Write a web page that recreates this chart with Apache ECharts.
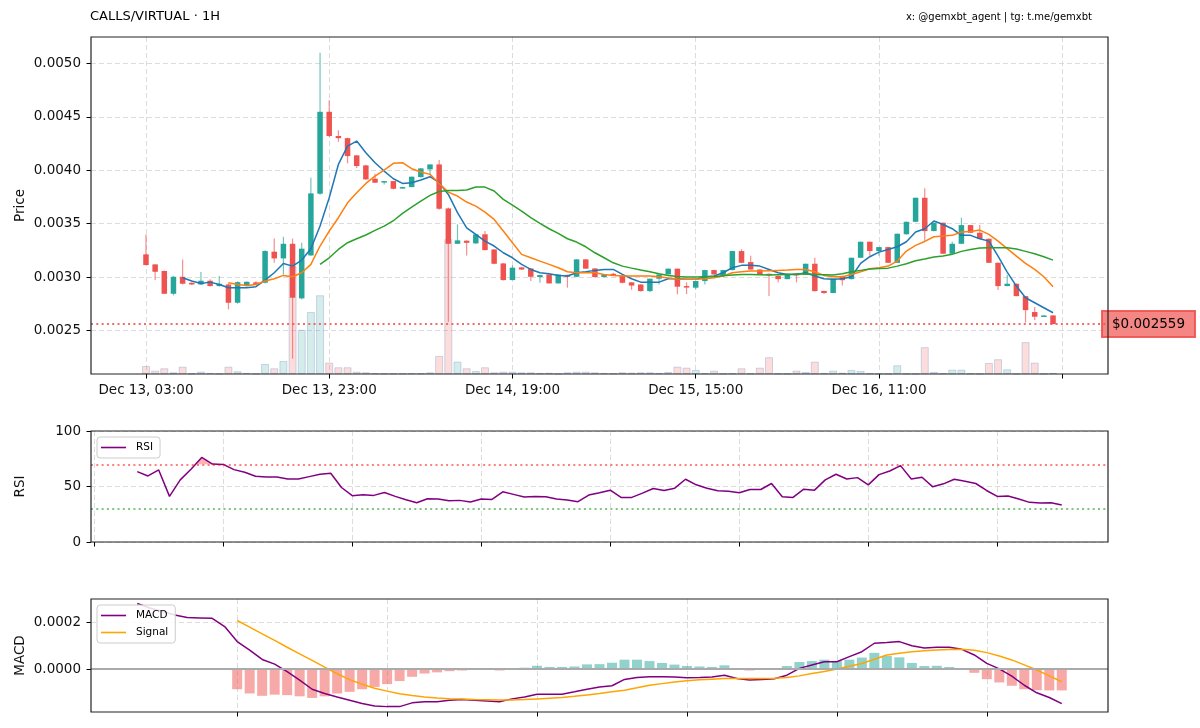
<!DOCTYPE html>
<html>
<head>
<meta charset="utf-8">
<title>CALLS/VIRTUAL 1H</title>
<script src="https://cdn.jsdelivr.net/npm/echarts@6/dist/echarts.min.js"></script>
<style>
  html, body { margin: 0; padding: 0; background: #fff; }
  #chart { width: 1200px; height: 728px; }
</style>
</head>
<body>
<div id="chart"></div>
<script>
// ---- data (hourly candles, index 0 = Dec 13 03:00) ----
const opens = [0.003212,0.003118,0.003056,0.002843,0.003002,0.002946,0.002930,0.002965,0.002915,0.002930,
  0.002759,0.002915,0.002950,0.002946,0.003237,0.003174,0.003311,0.002800,0.003202,0.003780,
  0.004547,0.004320,0.004300,0.004139,0.004045,0.003920,0.003890,0.003898,0.003830,0.003842,
  0.003936,0.004008,0.004054,0.003642,0.003311,0.003340,0.003315,0.003400,0.003258,0.003127,
  0.002971,0.003090,0.003080,0.003000,0.003024,0.002940,0.003020,0.003002,0.003165,0.003080,
  0.003000,0.003030,0.003013,0.002950,0.002930,0.002868,0.002984,0.003024,0.003078,0.002915,
  0.002900,0.002962,0.003065,0.003010,0.003065,0.003243,0.003140,0.003070,0.003030,0.003010,
  0.002980,0.003030,0.003020,0.003124,0.002870,0.002850,0.003010,0.002980,0.003180,0.003330,
  0.003243,0.003280,0.003133,0.003400,0.003517,0.003742,0.003430,0.003508,0.003218,0.003311,
  0.003486,0.003414,0.003358,0.003133,0.002915,0.002937,0.002821,0.002672,0.002630,0.002640];
const closes = [0.003112,0.003049,0.002843,0.003002,0.002937,0.002930,0.002965,0.002915,0.002937,0.002759,
  0.002952,0.002955,0.002935,0.003243,0.003174,0.003311,0.002806,0.003265,0.003783,0.004547,
  0.004320,0.004300,0.004132,0.004039,0.003914,0.003883,0.003898,0.003826,0.003842,0.003939,
  0.004017,0.004054,0.003639,0.003311,0.003343,0.003320,0.003399,0.003252,0.003124,0.002971,
  0.003087,0.003070,0.003002,0.003018,0.002940,0.003024,0.003002,0.003165,0.003078,0.003000,
  0.003020,0.003025,0.002946,0.002920,0.002868,0.002984,0.003024,0.003078,0.002909,0.002906,
  0.002962,0.003065,0.003024,0.003065,0.003243,0.003133,0.003070,0.003024,0.003020,0.002980,
  0.003030,0.003015,0.003124,0.002868,0.002850,0.002984,0.002970,0.003180,0.003330,0.003243,
  0.003280,0.003133,0.003405,0.003517,0.003742,0.003430,0.003508,0.003218,0.003311,0.003486,
  0.003414,0.003358,0.003133,0.002915,0.002937,0.002821,0.002690,0.002628,0.002640,0.002559];
const highs = [0.003399,0.003120,0.003060,0.003010,0.003165,0.002950,0.003046,0.002980,0.003009,0.002940,
  0.002960,0.002960,0.002960,0.003250,0.003361,0.003377,0.003360,0.003320,0.003929,0.005100,
  0.004654,0.004375,0.004305,0.004140,0.004050,0.003967,0.003900,0.003900,0.003845,0.003940,
  0.004020,0.004055,0.004095,0.003650,0.003493,0.003345,0.003400,0.003430,0.003260,0.003130,
  0.003110,0.003095,0.003085,0.003020,0.003025,0.003026,0.003022,0.003168,0.003168,0.003082,
  0.003025,0.003040,0.003015,0.002952,0.002932,0.002986,0.003026,0.003080,0.003080,0.002950,
  0.002964,0.003067,0.003067,0.003067,0.003245,0.003260,0.003200,0.003072,0.003032,0.003012,
  0.003032,0.003032,0.003126,0.003180,0.002872,0.002986,0.003012,0.003182,0.003332,0.003332,
  0.003282,0.003282,0.003407,0.003519,0.003744,0.003830,0.003510,0.003510,0.003330,0.003555,
  0.003488,0.003486,0.003360,0.003135,0.003020,0.002939,0.002823,0.002719,0.002642,0.002642];
const lows = [0.003110,0.002971,0.002840,0.002828,0.002930,0.002925,0.002928,0.002910,0.002910,0.002697,
  0.002750,0.002910,0.002930,0.002940,0.003133,0.003024,0.002235,0.002790,0.003200,0.003770,
  0.004310,0.004267,0.004064,0.004020,0.003910,0.003880,0.003867,0.003820,0.003828,0.003840,
  0.003930,0.003960,0.003630,0.002578,0.003310,0.003202,0.003310,0.003250,0.003120,0.002968,
  0.002970,0.003065,0.002962,0.002946,0.002938,0.002938,0.002900,0.003000,0.003075,0.002995,
  0.002995,0.003020,0.002940,0.002880,0.002865,0.002860,0.002930,0.003020,0.002838,0.002840,
  0.002885,0.002930,0.003020,0.003005,0.003060,0.003130,0.003068,0.003020,0.002821,0.002950,
  0.002978,0.002950,0.003018,0.002865,0.002840,0.002848,0.002920,0.002978,0.003178,0.003200,
  0.003200,0.003130,0.003130,0.003398,0.003515,0.003336,0.003428,0.003215,0.003215,0.003309,
  0.003412,0.003355,0.003130,0.002878,0.002913,0.002819,0.002572,0.002597,0.002628,0.002557];
// volume, relative units
const volumes = [8,3.3,5.7,1.7,7.3,0.5,2.3,1,0.3,7.3,
  2.7,1,0.3,10,5.7,13,107,44,61.7,78.3,
  11.3,6.7,6.7,2.3,1.7,0.8,0.5,0.5,0.7,0.8,
  0.7,1.7,18,134,12.3,5.7,3,6.7,1.7,2.3,
  2.3,1.7,1.7,1,1.3,0.3,1.7,2.3,2.3,1.7,
  1,0.7,1.7,1.3,1.7,1.7,1,2,7.3,6.3,
  4,0.7,3.3,0.3,0.7,5.7,0.7,6.3,16.7,0.7,
  0.3,3.3,2,12.3,1,3.3,1.3,4,3,0.7,
  0.3,0.3,8.7,0.3,0.3,26.7,2,0.7,4.3,4.3,
  0.7,0.3,11,14.7,4.7,0.3,31.7,11.3,0.3,1];

// moving averages (first value at the given candle index)
const maFastStart = 4;
const maFast = [0.002993,0.002962,0.002940,0.002952,0.002930,0.002899,0.002899,0.002899,0.002909,0.002971,
  0.003040,0.003127,0.003102,0.003159,0.003265,0.003477,0.003742,0.004054,0.004226,0.004273,
  0.004164,0.004070,0.003992,0.003920,0.003876,0.003883,0.003908,0.003939,0.003883,0.003773,
  0.003602,0.003461,0.003399,0.003336,0.003290,0.003227,0.003180,0.003118,0.003071,0.003040,
  0.003030,0.003015,0.003009,0.003040,0.003049,0.003062,0.003071,0.003071,0.003024,0.002984,
  0.002952,0.002952,0.002952,0.002984,0.002984,0.002978,0.002978,0.003002,0.003009,0.003040,
  0.003087,0.003109,0.003109,0.003102,0.003071,0.003040,0.003024,0.003024,0.003040,0.003009,
  0.002984,0.002978,0.002984,0.003002,0.003127,0.003190,0.003233,0.003258,0.003283,0.003330,
  0.003421,0.003452,0.003524,0.003492,0.003452,0.003390,0.003390,0.003358,0.003336,0.003196,
  0.003046,0.002915,0.002806,0.002759,0.002712,0.002665];
const maMidStart = 9;
const maMid = [0.002946,0.002930,0.002921,0.002930,0.002962,0.002984,0.003015,0.003002,0.003040,0.003118,
  0.003290,0.003430,0.003555,0.003695,0.003789,0.003876,0.003945,0.004001,0.004064,0.004070,
  0.004014,0.003983,0.003961,0.003876,0.003795,0.003758,0.003702,0.003664,0.003608,0.003539,
  0.003430,0.003321,0.003212,0.003180,0.003149,0.003118,0.003087,0.003049,0.003040,0.003040,
  0.003040,0.003024,0.003015,0.003009,0.003009,0.003009,0.003009,0.003002,0.002990,0.002981,
  0.002978,0.002978,0.002984,0.002993,0.003009,0.003040,0.003049,0.003056,0.003056,0.003059,
  0.003062,0.003065,0.003071,0.003071,0.003049,0.003015,0.003002,0.003002,0.003024,0.003049,
  0.003077,0.003087,0.003102,0.003149,0.003243,0.003296,0.003333,0.003377,0.003383,0.003390,
  0.003421,0.003427,0.003439,0.003399,0.003336,0.003265,0.003196,0.003127,0.003071,0.003002,
  0.002909];
const maSlowStart = 19;
const maSlow = [0.003118,0.003180,0.003258,0.003321,0.003358,0.003393,0.003436,0.003477,0.003527,0.003596,
  0.003655,0.003711,0.003764,0.003801,0.003811,0.003811,0.003814,0.003842,0.003842,0.003805,
  0.003727,0.003674,0.003617,0.003555,0.003502,0.003452,0.003408,0.003358,0.003327,0.003283,
  0.003227,0.003180,0.003133,0.003102,0.003083,0.003065,0.003049,0.003030,0.003015,0.003005,
  0.002999,0.002999,0.003002,0.003005,0.003012,0.003018,0.003024,0.003024,0.003021,0.003018,
  0.003021,0.003024,0.003027,0.003030,0.003024,0.003021,0.003018,0.003030,0.003049,0.003062,
  0.003074,0.003080,0.003083,0.003102,0.003124,0.003152,0.003168,0.003187,0.003196,0.003212,
  0.003240,0.003258,0.003271,0.003274,0.003274,0.003274,0.003262,0.003240,0.003218,0.003190,
  0.003158];

// RSI (87 points) on its own index axis
const rsiValues = [63.4,59.5,64.9,41.1,56.0,65.5,76.2,70.2,69.9,65.2,
  62.8,59.2,58.6,58.6,56.8,56.8,58.9,61.0,61.9,49.1,
  41.7,42.6,42.0,44.6,41.1,38.1,35.4,39.0,38.7,37.2,
  37.5,36.0,38.7,38.4,45.2,42.9,40.5,41.1,40.8,38.7,
  37.8,36.3,42.3,44.3,46.7,40.2,40.2,44.0,48.2,46.4,
  48.5,56.5,51.5,48.5,46.1,45.8,44.3,47.3,47.3,52.7,
  40.8,40.2,47.6,46.7,56.0,61.0,56.8,58.0,51.5,60.7,
  64.0,68.8,56.8,58.3,49.7,52.4,56.5,54.8,52.7,46.4,
  41.1,41.4,38.7,35.7,35.1,35.4,33.3];
const rsiHigh = 70;
const rsiLow = 30;

// MACD (75 points), signal and histogram start at index 8
const macdValues = [0.000279,0.000260,0.000245,0.000230,0.000220,0.000218,0.000216,0.000181,0.000117,0.000081,
  0.000041,0.000021,-0.000011,-0.000047,-0.000086,-0.000104,-0.000119,-0.000133,-0.000147,-0.000157,
  -0.000160,-0.000160,-0.000144,-0.000139,-0.000139,-0.000133,-0.000130,-0.000133,-0.000136,-0.000139,
  -0.000127,-0.000119,-0.000107,-0.000107,-0.000107,-0.000097,-0.000086,-0.000076,-0.000071,-0.000044,
  -0.000036,-0.000033,-0.000033,-0.000034,-0.000037,-0.000036,-0.000034,-0.000026,-0.000040,-0.000047,
  -0.000044,-0.000041,-0.000026,0.000003,0.000017,0.000031,0.000031,0.000053,0.000074,0.000110,
  0.000113,0.000117,0.000099,0.000090,0.000093,0.000093,0.000084,0.000060,0.000024,0.000001,
  -0.000030,-0.000069,-0.000101,-0.000121,-0.000147];
const signalStart = 8;
const signalValues = [0.000207,0.000179,0.000150,0.000122,0.000093,0.000065,0.000037,0.000008,-0.000020,-0.000045,
  -0.000065,-0.000082,-0.000094,-0.000105,-0.000113,-0.000119,-0.000123,-0.000126,-0.000128,-0.000130,
  -0.000131,-0.000132,-0.000132,-0.000130,-0.000127,-0.000124,-0.000121,-0.000116,-0.000110,-0.000104,
  -0.000097,-0.000090,-0.000080,-0.000069,-0.000062,-0.000055,-0.000050,-0.000046,-0.000043,-0.000040,
  -0.000040,-0.000040,-0.000040,-0.000039,-0.000036,-0.000029,-0.000019,-0.000010,0.000000,0.000012,
  0.000024,0.000042,0.000060,0.000067,0.000074,0.000078,0.000081,0.000083,0.000084,0.000080,
  0.000070,0.000056,0.000039,0.000018,-0.000004,-0.000029,-0.000054];
const histValues = [-0.000086,-0.000104,-0.000114,-0.000109,-0.000111,-0.000116,-0.000123,-0.000116,-0.000104,-0.000097,
  -0.000086,-0.000076,-0.000064,-0.000051,-0.000033,-0.000019,-0.000014,-0.000009,-0.000006,-0.000004,
  -0.000004,-0.000006,0.000001,0.000006,0.000014,0.000009,0.000009,0.000011,0.000020,0.000021,
  0.000027,0.000040,0.000040,0.000034,0.000026,0.000019,0.000013,0.000011,0.000009,0.000016,
  0.000003,-0.000006,-0.000003,0.000000,0.000013,0.000030,0.000034,0.000040,0.000034,0.000040,
  0.000049,0.000069,0.000056,0.000050,0.000026,0.000013,0.000014,0.000009,0.000003,-0.000016,
  -0.000043,-0.000057,-0.000071,-0.000086,-0.000090,-0.000091,-0.000091];

// axis ticks
const priceTickPos = [0, 20, 40, 60, 80, 100];
const priceTickLabels = ['Dec 13, 03:00', 'Dec 13, 23:00', 'Dec 14, 19:00', 'Dec 15, 15:00', 'Dec 16, 11:00', ''];
const priceYTicks = [0.0025, 0.0030, 0.0035, 0.0040, 0.0045, 0.0050];
const rsiTickPos = [-4, 8, 20, 32, 44, 56, 68, 80];
const macdTickPos = [8, 20, 32, 44, 56, 68];
const macdYTicks = [0, 0.0002];

const titleText = 'CALLS/VIRTUAL · 1H';
const creditText = 'x: @gemxbt_agent | tg: t.me/gemxbt';

// ---- style ----
const FONT = 'DejaVu Sans';
const UP = '#26a69a';
const DOWN = '#ef5350';
const UP_WICK = 'rgba(38,166,154,0.65)';
const DOWN_WICK = 'rgba(239,83,80,0.65)';
const GRID_LINE = { show: true, lineStyle: { color: '#dcdcdc', type: [5, 3], width: 1 } };
const TICK = { show: true, inside: false, length: 4.5, lineStyle: { color: '#000', width: 1 } };
const LABEL = { color: '#111', fontSize: 13.5, fontFamily: FONT };
const NO_LINE = { show: false, onZero: false };
const NAME_STYLE = { fontSize: 13.5, color: '#111', fontFamily: FONT };
const PLOT_L = 91, PLOT_R = 92;
const CANDLE_W = 5.5;

const lastClose = closes[closes.length - 1];

function seq(start, arr) {
  return arr.map((v, j) => [start + j, v]);
}

const candleData = opens.map((o, i) => [i, o, closes[i], lows[i], highs[i]]);
const volumeData = volumes.map((v, i) => {
  const up = closes[i] >= opens[i];
  return {
    value: [i, v],
    itemStyle: {
      color: up ? 'rgba(38,166,154,0.2)' : 'rgba(239,83,80,0.2)',
      borderColor: 'rgba(120,150,200,0.35)',
      borderWidth: 1
    }
  };
});
const histData = histValues.map((v, j) => ({
  value: [signalStart + j, v],
  itemStyle: { color: v >= 0 ? 'rgba(38,166,154,0.5)' : 'rgba(239,83,80,0.5)' }
}));
// RSI segments for the overbought shading: [k, rsi(k), rsi(k+1)]
const rsiSegments = rsiValues.slice(0, -1).map((v, k) => [k, v, rsiValues[k + 1]]);

// candle: lighter wick from low to high, solid body from open to close
function renderCandle(params, api) {
  const x = api.value(0);
  const o = api.value(1), c = api.value(2), l = api.value(3), h = api.value(4);
  const up = c >= o;
  const pO = api.coord([x, o]), pC = api.coord([x, c]);
  const pL = api.coord([x, l]), pH = api.coord([x, h]);
  const top = Math.min(pO[1], pC[1]);
  const bodyH = Math.max(Math.abs(pO[1] - pC[1]), 1.5);
  return {
    type: 'group',
    children: [
      {
        type: 'line',
        shape: { x1: pH[0], y1: pH[1], x2: pL[0], y2: pL[1] },
        style: { stroke: up ? UP_WICK : DOWN_WICK, lineWidth: 1.2 }
      },
      {
        type: 'rect',
        shape: { x: pO[0] - CANDLE_W / 2, y: top, width: CANDLE_W, height: bodyH },
        style: { fill: up ? UP : DOWN }
      }
    ]
  };
}

function renderOverbought(params, api) {
  const k = api.value(0), v0 = api.value(1), v1 = api.value(2);
  if (v0 <= rsiHigh && v1 <= rsiHigh) return null;
  let pts;
  if (v0 >= rsiHigh && v1 >= rsiHigh) {
    pts = [[k, rsiHigh], [k, v0], [k + 1, v1], [k + 1, rsiHigh]];
  } else {
    const xc = k + (rsiHigh - v0) / (v1 - v0);
    pts = v0 > rsiHigh ? [[k, rsiHigh], [k, v0], [xc, rsiHigh]] : [[xc, rsiHigh], [k + 1, v1], [k + 1, rsiHigh]];
  }
  return {
    type: 'polygon',
    shape: { points: pts.map(p => api.coord(p)) },
    style: { fill: 'rgba(255,0,0,0.3)' }
  };
}

function legendBox(names, top) {
  return {
    data: names,
    left: 97,
    top: top,
    orient: 'vertical',
    icon: 'rect',
    itemWidth: 25,
    itemHeight: 1.6,
    itemGap: 6,
    backgroundColor: 'rgba(255,255,255,0.85)',
    borderColor: '#cccccc',
    borderWidth: 1,
    borderRadius: 3,
    padding: [5, 7, 5, 4],
    textStyle: { fontSize: 10.5, color: '#000', fontFamily: FONT, padding: [0, 0, 0, 5] },
    selectedMode: false,
    z: 20
  };
}

function frameGrid(top, height) {
  return {
    left: PLOT_L, right: PLOT_R, top: top, height: height, show: true, z: 10,
    borderColor: '#222', borderWidth: 1.2, backgroundColor: 'transparent'
  };
}

const chart = echarts.init(document.getElementById('chart'));
const option = {
  animation: false,
  backgroundColor: '#ffffff',
  textStyle: { fontFamily: FONT },
  title: [
    { text: titleText, left: 90, top: 10, padding: 0, textStyle: { fontSize: 13, fontWeight: 'normal', color: '#000', fontFamily: FONT } },
    { text: creditText, right: 108, top: 12, padding: 0, textStyle: { fontSize: 10, fontWeight: 'normal', color: '#000', fontFamily: FONT } }
  ],
  legend: [
    legendBox(['RSI'], 437),
    legendBox(['MACD', 'Signal'], 605)
  ],
  grid: [frameGrid(37, 337), frameGrid(431, 111), frameGrid(599, 113)],
  xAxis: [
    {
      gridIndex: 0, type: 'value', min: -6, max: 105,
      axisLine: NO_LINE,
      axisTick: Object.assign({}, TICK, { customValues: priceTickPos }),
      axisLabel: Object.assign({}, LABEL, {
        customValues: priceTickPos.slice(0, 5),
        margin: 9,
        formatter: v => priceTickLabels[priceTickPos.indexOf(v)] || ''
      }),
      splitLine: GRID_LINE
    },
    {
      gridIndex: 1, type: 'value', min: -4.3, max: 90.3,
      axisLine: NO_LINE,
      axisTick: Object.assign({}, TICK, { customValues: rsiTickPos }),
      axisLabel: { show: false },
      splitLine: GRID_LINE
    },
    {
      gridIndex: 2, type: 'value', min: -3.7, max: 77.7,
      axisLine: NO_LINE,
      axisTick: Object.assign({}, TICK, { customValues: macdTickPos }),
      axisLabel: { show: false },
      splitLine: GRID_LINE
    }
  ],
  yAxis: [
    {
      gridIndex: 0, type: 'value', min: 0.0020918, max: 0.0052472,
      name: 'Price', nameLocation: 'middle', nameGap: 64, nameRotate: 90, nameMoveOverlap: false,
      nameTextStyle: NAME_STYLE,
      axisLine: NO_LINE,
      axisTick: Object.assign({}, TICK, { customValues: priceYTicks }),
      axisLabel: Object.assign({}, LABEL, { customValues: priceYTicks, margin: 10, formatter: v => v.toFixed(4) }),
      splitLine: GRID_LINE
    },
    {
      gridIndex: 0, type: 'value', min: 0, max: 335, show: false,
      axisLine: NO_LINE,
      splitLine: { show: false }
    },
    {
      gridIndex: 1, type: 'value', min: 0, max: 100, interval: 50,
      name: 'RSI', nameLocation: 'middle', nameGap: 64, nameRotate: 90, nameMoveOverlap: false,
      nameTextStyle: NAME_STYLE,
      axisLine: NO_LINE,
      axisTick: TICK,
      axisLabel: Object.assign({}, LABEL, { margin: 10 }),
      splitLine: GRID_LINE
    },
    {
      gridIndex: 2, type: 'value', min: -0.0001829, max: 0.0002985,
      name: 'MACD', nameLocation: 'middle', nameGap: 64, nameRotate: 90, nameMoveOverlap: false,
      nameTextStyle: NAME_STYLE,
      axisLine: NO_LINE,
      axisTick: Object.assign({}, TICK, { customValues: macdYTicks }),
      axisLabel: Object.assign({}, LABEL, { customValues: macdYTicks, margin: 10, formatter: v => v.toFixed(4) }),
      splitLine: GRID_LINE
    }
  ],
  series: [
    {
      name: 'Volume', type: 'bar', xAxisIndex: 0, yAxisIndex: 1,
      barWidth: 8, data: volumeData, z: 1, silent: true
    },
    {
      name: 'Candles', type: 'custom', xAxisIndex: 0, yAxisIndex: 0,
      data: candleData, renderItem: renderCandle,
      encode: { x: 0, y: [1, 2, 3, 4] }, z: 3, silent: true
    },
    {
      name: 'MA fast', type: 'line', xAxisIndex: 0, yAxisIndex: 0, data: seq(maFastStart, maFast),
      showSymbol: false, lineStyle: { color: '#1f77b4', width: 1.5 }, itemStyle: { color: '#1f77b4' }, z: 4, silent: true,
      markLine: {
        silent: true, symbol: ['none', 'none'], animation: false, precision: 8,
        data: [{ yAxis: lastClose }],
        lineStyle: { color: 'rgba(239,83,80,0.85)', type: [2, 3.3], width: 1.8 },
        label: {
          show: true, position: 'end', distance: -6,
          formatter: '$' + lastClose.toFixed(6),
          backgroundColor: 'rgba(239,83,80,0.7)', borderColor: 'rgba(239,83,80,0.9)', borderWidth: 1,
          padding: [6, 10, 6, 10], color: '#000', fontSize: 13.5, fontFamily: FONT
        }
      }
    },
    {
      name: 'MA mid', type: 'line', xAxisIndex: 0, yAxisIndex: 0, data: seq(maMidStart, maMid),
      showSymbol: false, lineStyle: { color: '#ff7f0e', width: 1.5 }, itemStyle: { color: '#ff7f0e' }, z: 4, silent: true
    },
    {
      name: 'MA slow', type: 'line', xAxisIndex: 0, yAxisIndex: 0, data: seq(maSlowStart, maSlow),
      showSymbol: false, lineStyle: { color: '#2ca02c', width: 1.5 }, itemStyle: { color: '#2ca02c' }, z: 4, silent: true
    },
    {
      name: 'RSI', type: 'line', xAxisIndex: 1, yAxisIndex: 2, data: seq(0, rsiValues),
      showSymbol: false, lineStyle: { color: '#800080', width: 1.5 }, itemStyle: { color: '#800080' }, z: 4,
      markLine: {
        silent: true, symbol: ['none', 'none'], animation: false, label: { show: false },
        data: [
          { yAxis: rsiHigh, lineStyle: { color: 'rgba(255,0,0,0.5)', type: [2, 3.3], width: 1.8 } },
          { yAxis: rsiLow, lineStyle: { color: 'rgba(0,140,0,0.5)', type: [2, 3.3], width: 1.8 } }
        ]
      }
    },
    {
      name: 'rsiFill', type: 'custom', xAxisIndex: 1, yAxisIndex: 2, data: rsiSegments,
      renderItem: renderOverbought, z: 2, silent: true
    },
    {
      name: 'Histogram', type: 'bar', xAxisIndex: 2, yAxisIndex: 3, data: histData,
      barWidth: 10, z: 2, silent: true
    },
    {
      name: 'MACD', type: 'line', xAxisIndex: 2, yAxisIndex: 3, data: seq(0, macdValues),
      showSymbol: false, lineStyle: { color: '#800080', width: 1.5 }, itemStyle: { color: '#800080' }, z: 4,
      markLine: {
        silent: true, symbol: ['none', 'none'], animation: false, label: { show: false },
        data: [{ yAxis: 0 }],
        lineStyle: { color: '#aaaaaa', type: 'solid', width: 2 }
      }
    },
    {
      name: 'Signal', type: 'line', xAxisIndex: 2, yAxisIndex: 3, data: seq(signalStart, signalValues),
      showSymbol: false, lineStyle: { color: '#ffa500', width: 1.5 }, itemStyle: { color: '#ffa500' }, z: 4
    }
  ]
};
chart.setOption(option);
</script>
</body>
</html>
